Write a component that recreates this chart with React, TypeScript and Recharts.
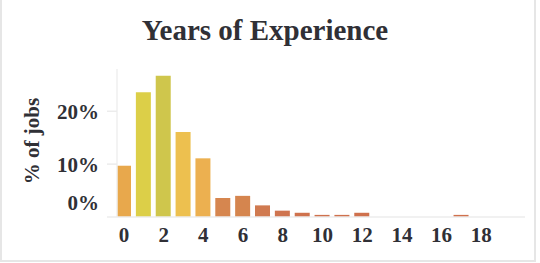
import { Bar, BarChart, Cell, XAxis, YAxis } from 'recharts'

const years = [0, 1, 2, 3, 4, 5, 6, 7, 8, 9, 10, 11, 12, 13, 14, 15, 16, 17, 18]
const shares = [9.7, 23.6, 26.7, 16.1, 11.1, 3.6, 4.0, 2.2, 1.2, 0.8, 0.4, 0.4, 0.8, 0, 0, 0, 0, 0.4, 0]
const barColors = [
  '#e8a84c', '#dccf48', '#cfc64c', '#edc04f', '#ecb050', '#d6864f', '#d5854e',
  '#d07a50', '#cf744f', '#cf724d', '#cf714d', '#cf714d', '#cf714d', '#cf714d',
  '#cf714d', '#cf714d', '#cf714d', '#d0714d', '#d0714d',
]
const xTicks = [0, 2, 4, 6, 8, 10, 12, 14, 16, 18]
const yTicks = [0, 10, 20]

const font = '"Liberation Serif", "Times New Roman", serif'
const ink = '#303036'

const data = years.map((year, i) => ({ year, share: shares[i] }))

const YTick = (props: any) => {
  const { x, y, payload } = props
  const shift = payload.value === 0 ? -14 : 0
  return (
    <text
      x={x}
      y={y + shift}
      dy='0.355em'
      textAnchor='end'
      fill={ink}
      fontFamily={font}
      fontWeight='bold'
      fontSize={21}
    >
      {payload.value}%
    </text>
  )
}

const App = () => {
  return (
    <div style={{ position: 'absolute', left: 0, top: 0, width: 540, height: 263, background: '#fff' }}>
      <div
        style={{
          position: 'absolute',
          left: 0,
          top: 0,
          width: 532,
          height: 260,
          borderLeft: '2px solid #e6e6e6',
          borderRight: '2px solid #e6e6e6',
          borderBottom: '2px solid #e6e6e6',
        }}
      />
      <BarChart
        width={540}
        height={263}
        data={data}
        margin={{ top: 69, right: 15, bottom: 16, left: 0 }}
      >
        <XAxis
          dataKey='year'
          type='number'
          domain={[-0.35, 20.2]}
          allowDataOverflow
          ticks={xTicks}
          interval={0}
          height={30}
          tickLine={false}
          tickSize={0}
          tickMargin={10}
          axisLine={{ stroke: '#ececec', strokeWidth: 1.5 }}
          tick={{ fill: ink, fontFamily: font, fontWeight: 'bold', fontSize: 21 }}
        />
        <YAxis
          width={117}
          domain={[0, 28]}
          ticks={yTicks}
          interval={0}
          tickSize={10}
          tickMargin={8}
          axisLine={{ stroke: '#efefef', strokeWidth: 1.5 }}
          tickLine={{ stroke: '#ececec', strokeWidth: 1.5 }}
          tick={<YTick />}
        />
        <Bar dataKey='share' barSize={15} isAnimationActive={false}>
          {data.map((d, i) => (
            <Cell key={d.year} fill={barColors[i]} />
          ))}
        </Bar>
      </BarChart>
      <svg
        width={540}
        height={263}
        style={{ position: 'absolute', left: 0, top: 0, pointerEvents: 'none' }}
      >
        <text
          x={265}
          y={40}
          textAnchor='middle'
          fill={ink}
          fontFamily={font}
          fontWeight='bold'
          fontSize={29}
        >
          Years of Experience
        </text>
        <text
          transform='translate(32, 141) rotate(-90)'
          textAnchor='middle'
          dominantBaseline='central'
          fill={ink}
          fontFamily={font}
          fontWeight='bold'
          fontSize={21}
        >
          % of jobs
        </text>
      </svg>
    </div>
  )
}

export default App
